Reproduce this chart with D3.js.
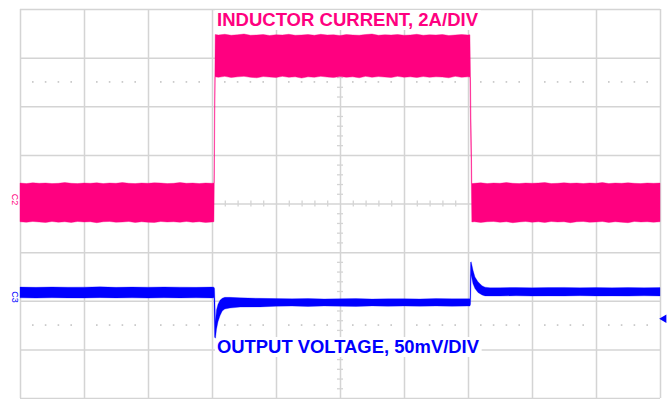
<!DOCTYPE html>
<html><head><meta charset="utf-8">
<script src="https://cdn.jsdelivr.net/npm/d3@7"></script>
<style>html,body{margin:0;padding:0;background:#fff;overflow:hidden}</style>
</head><body><svg id="c" width="671" height="399"></svg>
<script>
// ---- Data (time in divisions, current in A, voltage deviation in mV) ----
const gridX = [0,1,2,3,4,5,6,7,8,9,10];
const gridY = [-4,-3,-2,-1,0,1,2,3,4];
const cursorLevels = [2.5, -2.5];

const pinkTime = [0,0.1,0.2,0.3,0.4,0.5,0.6,0.7,0.8,0.9,1.0,1.1,1.2,1.3,1.4,1.5,1.6,1.7,1.8,1.9,2.0,2.1,2.2,2.3,2.4,2.5,2.6,2.7,2.8,2.9,3.0,3.03,
  3.05,3.1,3.2,3.3,3.4,3.5,3.6,3.7,3.8,3.9,4.0,4.1,4.2,4.3,4.4,4.5,4.6,4.7,4.8,4.9,5.0,5.1,5.2,5.3,5.4,5.5,5.6,5.7,5.8,5.9,6.0,6.1,6.2,6.3,6.4,6.5,6.6,6.7,6.8,6.9,7.0,7.03,
  7.06,7.1,7.2,7.3,7.4,7.5,7.6,7.7,7.8,7.9,8.0,8.1,8.2,8.3,8.4,8.5,8.6,8.7,8.8,8.9,9.0,9.1,9.2,9.3,9.4,9.5,9.6,9.7,9.8,9.9,10.0];
const pinkHigh = [0.84,0.82,0.85,0.83,0.84,0.82,0.83,0.86,0.83,0.82, 0.84,0.83,0.85,0.82,0.84,0.83,0.86,0.83,0.82,0.84, 0.83,0.85,0.84,0.82,0.83,0.86,0.83,0.84,0.82,0.84, 0.83,0.84,
  6.95,6.93,6.96,6.92,6.94,6.97,6.92,6.93,6.95,6.91, 6.94,6.93,6.96,6.92,6.93,6.95,6.92,6.96,6.93,6.94, 6.91,6.95,6.93,6.92,6.95,6.97,6.92,6.94,6.93,6.95, 6.92,6.93,6.96,6.92,6.94,6.93,6.95,6.91,6.93,6.95, 6.93,6.94,
  0.82,0.83,0.85,0.82,0.84,0.83,0.86,0.83,0.82,0.84, 0.83,0.84,0.86,0.82,0.83,0.85,0.83,0.84,0.82,0.84, 0.83,0.86,0.82,0.84,0.83,0.85,0.83,0.82,0.84,0.83, 0.84];
const pinkLow = [-0.75,-0.77,-0.74,-0.76,-0.78,-0.74,-0.77,-0.75,-0.78,-0.74, -0.76,-0.75,-0.79,-0.75,-0.74,-0.77,-0.76,-0.74,-0.78,-0.75, -0.77,-0.78,-0.74,-0.76,-0.75,-0.77,-0.74,-0.77,-0.75,-0.78, -0.76,-0.75,
  5.21,5.19,5.23,5.18,5.21,5.23,5.19,5.17,5.22,5.20, 5.18,5.23,5.19,5.21,5.16,5.21,5.19,5.23,5.20,5.18, 5.22,5.19,5.21,5.17,5.23,5.19,5.22,5.20,5.18,5.23, 5.19,5.21,5.18,5.22,5.19,5.21,5.20,5.17,5.23,5.19, 5.21,5.20,
  -0.76,-0.75,-0.78,-0.75,-0.74,-0.77,-0.75,-0.79,-0.76,-0.74, -0.77,-0.75,-0.78,-0.74,-0.76,-0.75,-0.79,-0.75,-0.74,-0.77, -0.76,-0.74,-0.78,-0.75,-0.77,-0.79,-0.74,-0.76,-0.75,-0.77, -0.75];

const blueTime = [0,0.25,0.5,0.75,1.0,1.25,1.5,1.75,2.0,2.25,2.5,2.75,3.0,3.03,
  3.04,3.055,3.07,3.094,3.125,3.16,3.2,3.28,3.44,3.75,
  4.0,4.25,4.5,4.75,5.0,5.25,5.5,5.75,6.0,6.25,6.5,6.75,7.0,7.03,
  7.04,7.05,7.078,7.109,7.156,7.219,7.266,7.344,
  7.5,7.75,8.0,8.25,8.5,8.75,9.0,9.25,9.5,9.75,10.0];
const blueHigh = [5.6,5.3,5.7,5.4,5.5,5.8,5.3,5.6,5.4,5.7,5.5,5.3,5.6,5.5,
  4,-30,-18,-12,-8,-6,-5,-5,-5.5,-6,
  -6.3,-6.5,-6.2,-6.6,-6.4,-6.3,-6.7,-6.5,-6.4,-6.6,-6.3,-6.5,-6.4,-6.5,
  31,31.5,23,16,11,7,5.5,4.8,
  4.9,5.1,4.8,5.0,5.2,4.9,5.0,4.8,5.1,4.9,5.0];
const blueLow = [-5.5,-5.8,-5.4,-5.6,-5.7,-5.3,-5.6,-5.5,-5.8,-5.4,-5.6,-5.5,-5.7,-5.5,
  -46,-47,-38,-30,-24,-19,-17,-16,-15,-14.8,
  -14.2,-14.0,-14.4,-13.9,-14.1,-14.3,-13.8,-14.2,-14.0,-14.1,-13.9,-14.2,-14.0,-14.0,
  -12,18,9,4,0,-2.5,-3.5,-3.6,
  -3.6,-3.4,-3.7,-3.5,-3.6,-3.3,-3.6,-3.5,-3.7,-3.4,-3.6];

const ampsPerDiv = 2, mVPerDiv = 50;
const blueZeroDiv = -1.83;   // screen position of the voltage reference
const triggerLevel = -27;    // mV
const pinkLabel = "INDUCTOR CURRENT, 2A/DIV";
const blueLabel = "OUTPUT VOLTAGE, 50mV/DIV";
const PINK = "#ff0080", BLUE = "#0000ff", GRID = "#d4d4d4";

// ---- Scales ----
const svg = d3.select("#c");
const x = d3.scaleLinear().domain([0,10]).range([20,660]);
const yDiv = d3.scaleLinear().domain([-4,4]).range([398,9]);
const yPink = d3.scaleLinear().domain([-4*ampsPerDiv, 4*ampsPerDiv]).range([398,9]);
const yBlue = d3.scaleLinear().domain([(-4-blueZeroDiv)*mVPerDiv, (4-blueZeroDiv)*mVPerDiv]).range([398,9]);

// ---- Grid ----
const gx = svg.append("g").attr("transform",`translate(0,${yDiv(-4)})`)
  .call(d3.axisBottom(x).tickValues(gridX).tickSize(-(yDiv(-4)-yDiv(4))).tickFormat(""));
const gy = svg.append("g").attr("transform",`translate(${x(0)},0)`)
  .call(d3.axisLeft(yDiv).tickValues(gridY).tickSize(-(x(10)-x(0))).tickFormat(""));
[gx,gy].forEach(g=>{g.select(".domain").remove();g.selectAll("line").attr("stroke",GRID).attr("stroke-width",1.5);});

const minorX = d3.range(1,50).filter(k=>k%5!==0).map(k=>k/5);
const minorY = d3.range(-19,20).filter(k=>k%5!==0).map(k=>k/5);
const mx = svg.append("g").attr("transform",`translate(0,${yDiv(0)-3})`)
  .call(d3.axisBottom(x).tickValues(minorX).tickSize(6).tickFormat(""));
const my = svg.append("g").attr("transform",`translate(${x(5)+3},0)`)
  .call(d3.axisLeft(yDiv).tickValues(minorY).tickSize(6).tickFormat(""));
[mx,my].forEach(g=>{g.select(".domain").remove();g.selectAll("line").attr("stroke",GRID).attr("stroke-width",1.3);});

cursorLevels.forEach(lv=>{
  svg.append("g").selectAll("rect").data(minorX).join("rect")
    .attr("x",d=>x(d)-0.8).attr("y",yDiv(lv)-0.8).attr("width",1.6).attr("height",1.6)
    .attr("fill","#c4c4c4");
});

// ---- Label backgrounds + traces ----
const bgG = svg.append("g");
const traceG = svg.append("g");
const textG = svg.append("g");

const idxP = d3.range(pinkTime.length);
traceG.append("path")
  .attr("d", d3.area().x(i=>x(pinkTime[i])).y0(i=>yPink(pinkLow[i])).y1(i=>yPink(pinkHigh[i]))(idxP))
  .attr("fill",PINK).attr("stroke",PINK).attr("stroke-width",0.4);
const idxB = d3.range(blueTime.length);
traceG.append("path")
  .attr("d", d3.area().x(i=>x(blueTime[i])).y0(i=>yBlue(blueLow[i])).y1(i=>yBlue(blueHigh[i]))(idxB))
  .attr("fill",BLUE).attr("stroke",BLUE).attr("stroke-width",0.3);

// trigger marker
svg.append("path").attr("d", d3.symbol(d3.symbolTriangle, 30)())
  .attr("transform",`translate(${x(10)+4},${yBlue(triggerLevel)}) rotate(-90)`)
  .attr("fill",BLUE);

// channel markers
svg.append("text").text("C2").attr("transform",`translate(12,${yPink(0)-4}) rotate(90)`)
  .attr("text-anchor","middle").attr("font-family","Liberation Sans, Arial, sans-serif")
  .attr("font-size",9).attr("fill",PINK);
svg.append("text").text("C3").attr("transform",`translate(12,${yBlue(0)+4.5}) rotate(90)`)
  .attr("text-anchor","middle").attr("font-family","Liberation Sans, Arial, sans-serif")
  .attr("font-size",9).attr("fill",BLUE);

function label(txt, tx, ty, col, len){
  const t = textG.append("text").text(txt).attr("x",tx).attr("y",ty)
    .attr("font-family","Liberation Sans, Arial, sans-serif").attr("font-weight","bold")
    .attr("font-size",18.5).attr("fill",col)
    .attr("textLength",len).attr("lengthAdjust","spacingAndGlyphs");
  const b = t.node().getBBox();
  bgG.append("rect").attr("x",b.x-2).attr("y",b.y+1).attr("width",b.width+4).attr("height",b.height-1).attr("fill","#fff");
}
label(pinkLabel, 217, 26, PINK, 261);
label(blueLabel, 217, 353, BLUE, 262);
</script></body></html>
